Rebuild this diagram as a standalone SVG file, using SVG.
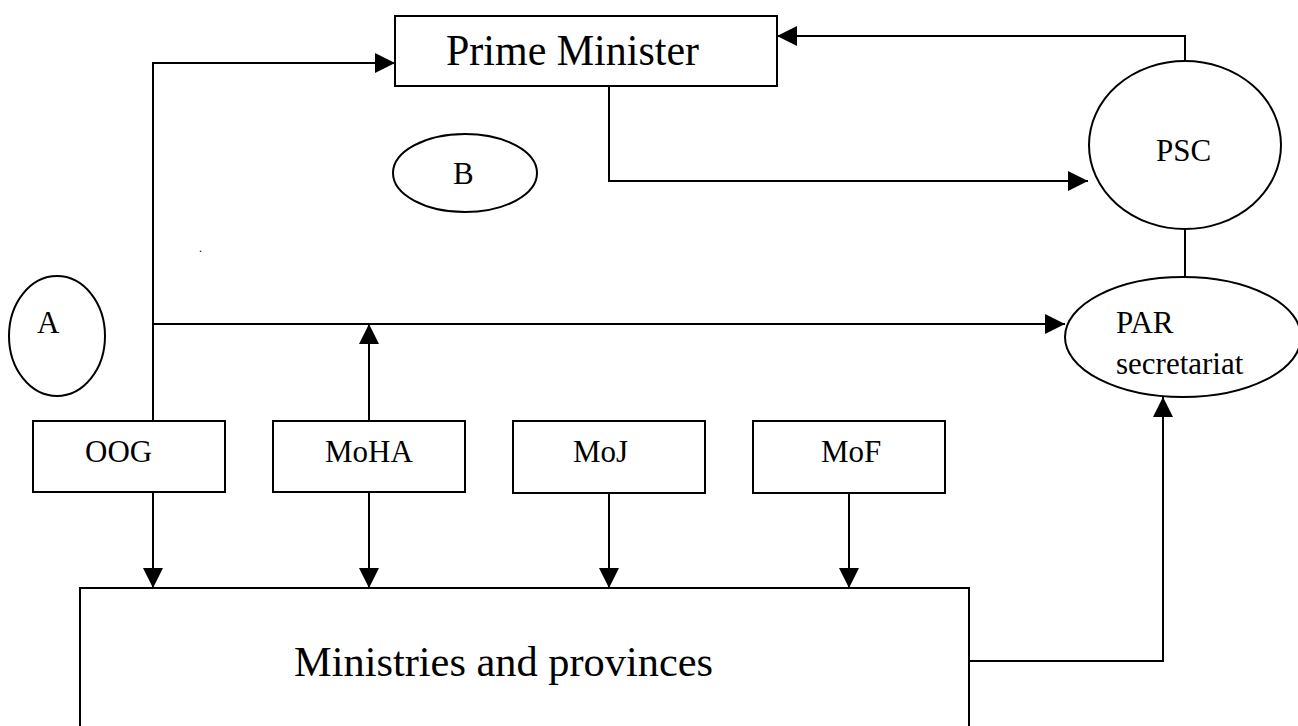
<svg xmlns="http://www.w3.org/2000/svg" width="1298" height="726" viewBox="0 0 1298 726">
  <style>
    .box { fill: #fff; stroke: #000; stroke-width: 2; }
    .oval { fill: #fff; stroke: #000; stroke-width: 2; }
    .wire { fill: none; stroke: #000; stroke-width: 2; }
    .arrow { fill: none; stroke: #000; stroke-width: 2; marker-end: url(#head); }
    text { font-family: "Liberation Serif", "Times New Roman", serif; fill: #000; }
    .lbl { font-size: 31px; }
  </style>
  <defs>
    <marker id="head" markerUnits="userSpaceOnUse" markerWidth="20" markerHeight="20" refX="20" refY="10" orient="auto">
      <path d="M0,0 L20,10 L0,20 Z" fill="#000"/>
    </marker>
  </defs>
  <rect width="1298" height="726" fill="#fff"/>

  <!-- connectors -->
  <g id="connectors">
    <!-- OOG up to Prime Minister -->
    <polyline class="arrow" points="153,421 153,63 395,63"/>
    <!-- PSC up to Prime Minister -->
    <polyline class="arrow" points="1185,61 1185,36 777,36"/>
    <!-- Prime Minister to PSC -->
    <polyline class="arrow" points="609,86 609,181 1088,181"/>
    <!-- common line to PAR secretariat -->
    <polyline class="arrow" points="153,324 1065,324"/>
    <!-- MoHA up to common line -->
    <polyline class="arrow" points="369,421 369,324"/>
    <!-- PSC to PAR secretariat -->
    <line class="wire" x1="1185" y1="229" x2="1185" y2="277"/>
    <!-- agencies down to ministries -->
    <polyline class="arrow" points="153,492 153,588"/>
    <polyline class="arrow" points="369,492 369,588"/>
    <polyline class="arrow" points="609,493 609,588"/>
    <polyline class="arrow" points="849,493 849,588"/>
    <!-- ministries up to PAR secretariat -->
    <polyline class="arrow" points="969,661 1163,661 1163,397"/>
  </g>

  <g id="prime-minister">
    <rect class="box" x="395" y="16" width="382" height="70"/>
    <text x="446" y="65" style="font-size:45px" textLength="253" lengthAdjust="spacingAndGlyphs">Prime Minister</text>
  </g>

  <g id="psc">
    <ellipse class="oval" cx="1185" cy="145" rx="96" ry="84"/>
    <text class="lbl" x="1156" y="161">PSC</text>
  </g>

  <g id="par-secretariat">
    <ellipse class="oval" cx="1183" cy="337" rx="118" ry="60"/>
    <text class="lbl" x="1116" y="333">PAR</text>
    <text class="lbl" x="1116" y="374">secretariat</text>
  </g>

  <g id="b">
    <ellipse class="oval" cx="465" cy="173" rx="72" ry="39"/>
    <text class="lbl" x="453" y="184">B</text>
  </g>

  <g id="a">
    <ellipse class="oval" cx="57" cy="336" rx="48" ry="60"/>
    <text class="lbl" x="37" y="333">A</text>
  </g>

  <text x="199" y="252" style="font-size:12px">.</text>

  <g id="oog">
    <rect class="box" x="33" y="421" width="192" height="71"/>
    <text class="lbl" x="85" y="462">OOG</text>
  </g>

  <g id="moha">
    <rect class="box" x="273" y="421" width="192" height="71"/>
    <text class="lbl" x="325" y="462">MoHA</text>
  </g>

  <g id="moj">
    <rect class="box" x="513" y="421" width="192" height="72"/>
    <text class="lbl" x="573" y="462">MoJ</text>
  </g>

  <g id="mof">
    <rect class="box" x="753" y="421" width="192" height="72"/>
    <text class="lbl" x="821" y="462">MoF</text>
  </g>

  <g id="ministries">
    <rect class="box" x="80" y="588" width="889" height="150"/>
    <text x="294" y="676" style="font-size:42px" textLength="419" lengthAdjust="spacingAndGlyphs">Ministries and provinces</text>
  </g>
</svg>
